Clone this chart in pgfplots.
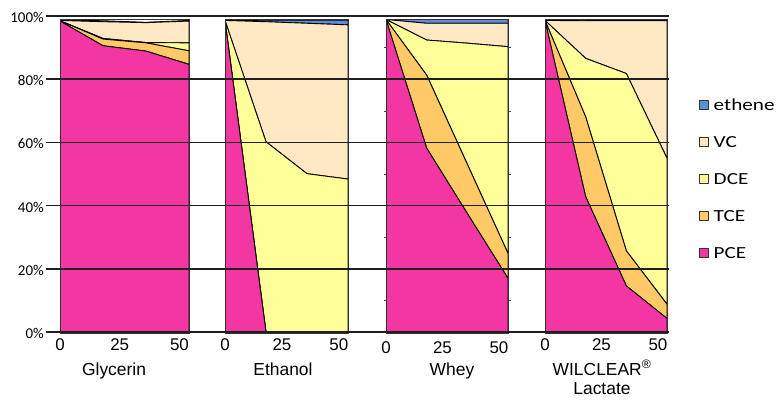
\documentclass[border=0pt]{standalone}
\usepackage{fontspec}
\setmainfont{Liberation Sans}
\newfontfamily\calw{Carlito}
\usepackage{pgfplots}
\usepackage{pgfplotstable}
\pgfplotsset{compat=1.18}
\definecolor{cPCE}{HTML}{F236A2}
\definecolor{cTCE}{HTML}{FFC966}
\definecolor{cDCE}{HTML}{FFFF99}
\definecolor{cVC}{HTML}{FFE8C2}
\definecolor{cETH}{HTML}{5A8ED6}

\pgfplotstableread{
x PCE TCE DCE VC eth
0 98.4 0.1 0.0 0.1 0.1
18 90.6 2.1 0.2 5.3 0.3
36 88.9 2.6 0.1 6.3 0.1
54 84.7 4.3 2.5 6.9 0.2
}\glyc
\pgfplotstableread{
x PCE TCE DCE VC eth
0 98.6 0.0 0.0 0.0 0.1
18 0.0 0.0 60.2 38.0 0.5
36 0.0 0.0 50.1 47.6 1.0
54 0.0 0.0 48.4 48.8 1.5
}\ethan
\pgfplotstableread{
x PCE TCE DCE VC eth
0 98.9 0.0 0.0 0.0 0.1
18 58.2 23.1 11.1 5.3 1.3
36 37.5 15.6 38.3 6.3 1.3
54 17.0 7.9 65.4 7.4 1.3
}\whey
\pgfplotstableread{
x PCE TCE DCE VC eth
0 98.6 0.0 0.0 0.0 0.1
18 42.8 25.3 18.5 11.9 0.2
36 14.6 11.1 56.1 16.7 0.2
54 4.3 4.5 46.2 43.5 0.2
}\lact

\pgfplotsset{
  panel/.style={
    scale only axis, anchor=south west, height=314.4bp,
    xmin=0, xmax=54, ymin=-0.5, ymax=99,
    stack plots=y, axis on top,
    axis line style={draw=black!80, line width=0.8pt},
    xtick={0,25,50}, ytick=\empty,
    xtick style={draw=none},
    /pgf/number format/assume math mode=true,
    xticklabel style={font=\fontsize{17}{17}\selectfont, yshift=-2bp},
    xlabel style={font=\fontsize{17.5}{21}\selectfont, align=center, anchor=north, inner sep=0pt, yshift=-29bp},
    every axis plot/.append style={draw=black, line width=0.9pt, line join=round},
  },
}
\newcommand{\stack}[1]{%
  \addplot[fill=cPCE] table[x=x,y=PCE] {#1} \closedcycle;
  \addplot[fill=cTCE] table[x=x,y=TCE] {#1} \closedcycle;
  \addplot[fill=cDCE] table[x=x,y=DCE] {#1} \closedcycle;
  \addplot[fill=cVC] table[x=x,y=VC] {#1} \closedcycle;
  \addplot[fill=cETH] table[x=x,y=eth] {#1} \closedcycle;
}
\newcommand{\legtxt}[1]{\scalebox{1.25}[1]{#1}}

\begin{document}
\begin{tikzpicture}
\useasboundingbox (0,0) rectangle (779bp,400bp);

\begin{axis}[panel, at={(60bp,66.42bp)}, width=129bp,
  xlabel={Glycerin}, xlabel style={at={(axis description cs:0.419,0)}}]
\stack{\glyc}
\end{axis}

\begin{axis}[panel, at={(225bp,66.42bp)}, width=123bp,
  xlabel={Ethanol}, xlabel style={at={(axis description cs:0.4715,0)}}]
\stack{\ethan}
\end{axis}

\begin{axis}[panel, at={(386bp,66.42bp)}, width=122bp,
  xlabel={Whey}, xlabel style={at={(axis description cs:0.541,0)}},
  ytick={10,30,50,70,90}, yticklabels={}, ytick style={draw=black!70, line width=0.6pt},
  major tick length=2.5bp, tick align=outside]
\stack{\whey}
\end{axis}

\begin{axis}[panel, at={(545bp,66.42bp)}, width=122bp,
  xlabel={WILCLEAR\textsuperscript{®}\\Lactate},
  xlabel style={at={(axis description cs:0.467,0)}, font=\fontsize{17.5}{20}\selectfont, yshift=2.5bp},
  reverse legend,
  legend style={draw=none, fill=none, at={(axis description cs:1.2352,0.7557)}, anchor=north west,
    font=\calw\fontsize{17}{17}\selectfont, row sep=24.6bp, column sep=0bp,
    nodes={inner sep=0pt, text height=12bp, text depth=0bp, anchor=base west}},
  legend image code/.code={\draw[#1, line width=0.8pt, draw=black!80] (0bp,1bp) rectangle (9bp,10bp); \path (14bp,0bp);},
  legend cell align=left]
\stack{\lact}
\legend{\legtxt{PCE},\legtxt{TCE},\legtxt{DCE},\legtxt{VC},\legtxt{ethene}}
\end{axis}

\begin{axis}[scale only axis, anchor=south west, at={(46bp,68bp)}, width=623bp, height=316bp,
  xmin=0, xmax=1, ymin=0, ymax=100,
  xtick=\empty, ytick={0,20,40,60,80,100},
  yticklabels={0\%,20\%,40\%,60\%,80\%,100\%},
  axis line style={draw=none}, major tick length=0pt, ytick style={draw=none},
  ymajorgrids, grid style={draw=black!88, line width=1.7bp},
  yticklabel style={font=\calw\fontsize{15}{15}\selectfont, anchor=east, inner sep=2bp, yshift=-1.5bp},
  /pgf/number format/assume math mode=true]
\end{axis}
\end{tikzpicture}
\end{document}
